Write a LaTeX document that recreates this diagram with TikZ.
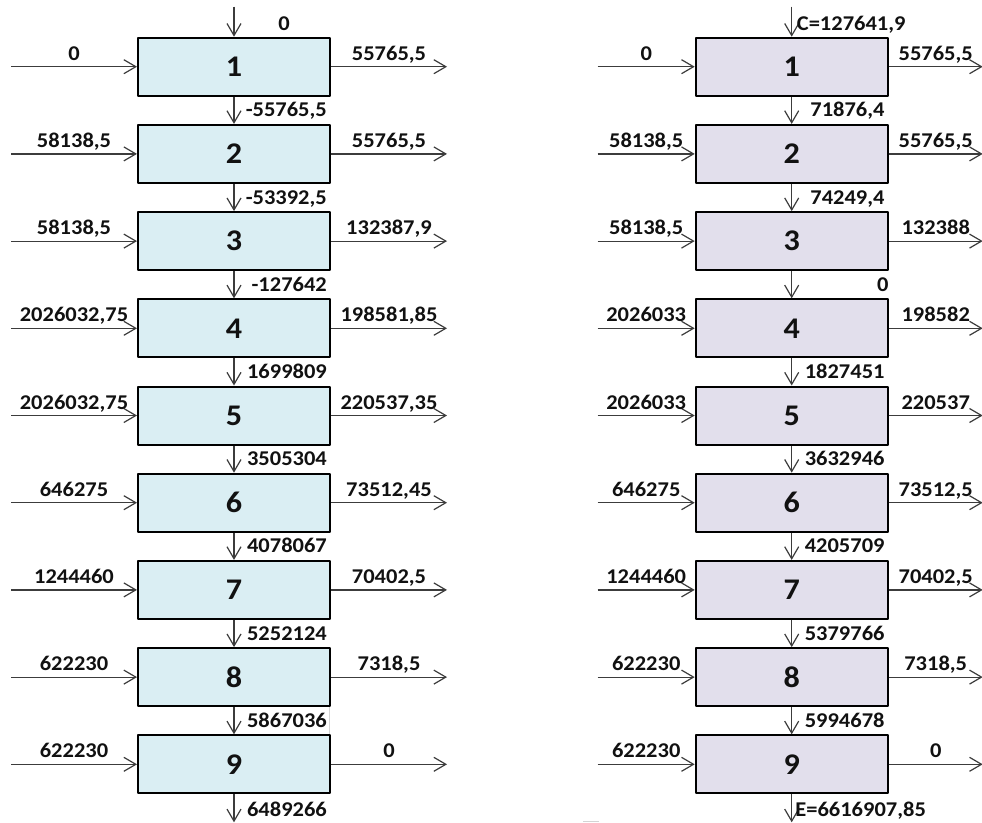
\documentclass[tikz,border=0pt]{standalone}
\usepackage{fontspec}
\setmainfont{Carlito}[FakeStretch=1.07]
\usetikzlibrary{arrows.meta}
\definecolor{balBlue}{HTML}{DAEEF3}
\definecolor{balLilac}{HTML}{E2DFEC}
\definecolor{balInk}{HTML}{111111}
\definecolor{balLine}{HTML}{3C3C3C}
\definecolor{balGrid}{HTML}{D4D4D4}

\begin{document}
\begin{tikzpicture}[x=1pt,y=-1pt,>={Straight Barb[length=12pt,width=14pt]},line join=round]
\useasboundingbox[fill=white] (0,0) rectangle (982,822);
\tikzset{cell/.style={draw=black,line width=2pt,minimum width=192pt,minimum height=58pt,inner sep=0pt,text=balInk,font=\fontsize{30}{33}\selectfont\bfseries},
  cellL/.style={cell,fill=balBlue},cellR/.style={cell,fill=balLilac},
  flow/.style={draw=balLine,line width=1.2pt,->},
  lab/.style={text=balInk,inner sep=0pt,font=\fontsize{21}{24}\selectfont\bfseries},
  hlab/.style={lab,midway,anchor=base,yshift=6.5pt}}
% left column
\node[cellL] (L1) at (234,66.7) {1}; \node[cellL] (L2) at (234,153.9) {2}; \node[cellL] (L3) at (234,241.1) {3};
\node[cellL] (L4) at (234,328.3) {4}; \node[cellL] (L5) at (234,415.5) {5}; \node[cellL] (L6) at (234,502.7) {6};
\node[cellL] (L7) at (234,589.9) {7}; \node[cellL] (L8) at (234,677.1) {8}; \node[cellL] (L9) at (234,764.3) {9};
% right column
\node[cellR] (R1) at (791.7,66.7) {1}; \node[cellR] (R2) at (791.7,153.9) {2}; \node[cellR] (R3) at (791.7,241.1) {3};
\node[cellR] (R4) at (791.7,328.3) {4}; \node[cellR] (R5) at (791.7,415.5) {5}; \node[cellR] (R6) at (791.7,502.7) {6};
\node[cellR] (R7) at (791.7,589.9) {7}; \node[cellR] (R8) at (791.7,677.1) {8}; \node[cellR] (R9) at (791.7,764.3) {9};
% side flows, left column
\draw[flow] ([xshift=-126pt]L1.west) -- node[hlab]{0} (L1.west); \draw[flow] (L1.east) -- node[hlab]{55765,5} ([xshift=116pt]L1.east);
\draw[flow] ([xshift=-126pt]L2.west) -- node[hlab]{58138,5} (L2.west); \draw[flow] (L2.east) -- node[hlab]{55765,5} ([xshift=116pt]L2.east);
\draw[flow] ([xshift=-126pt]L3.west) -- node[hlab]{58138,5} (L3.west); \draw[flow] (L3.east) -- node[hlab]{132387,9} ([xshift=116pt]L3.east);
\draw[flow] ([xshift=-126pt]L4.west) -- node[hlab]{2026032,75} (L4.west); \draw[flow] (L4.east) -- node[hlab]{198581,85} ([xshift=116pt]L4.east);
\draw[flow] ([xshift=-126pt]L5.west) -- node[hlab]{2026032,75} (L5.west); \draw[flow] (L5.east) -- node[hlab]{220537,35} ([xshift=116pt]L5.east);
\draw[flow] ([xshift=-126pt]L6.west) -- node[hlab]{646275} (L6.west); \draw[flow] (L6.east) -- node[hlab]{73512,45} ([xshift=116pt]L6.east);
\draw[flow] ([xshift=-126pt]L7.west) -- node[hlab]{1244460} (L7.west); \draw[flow] (L7.east) -- node[hlab]{70402,5} ([xshift=116pt]L7.east);
\draw[flow] ([xshift=-126pt]L8.west) -- node[hlab]{622230} (L8.west); \draw[flow] (L8.east) -- node[hlab]{7318,5} ([xshift=116pt]L8.east);
\draw[flow] ([xshift=-126pt]L9.west) -- node[hlab]{622230} (L9.west); \draw[flow] (L9.east) -- node[hlab]{0} ([xshift=116pt]L9.east);
% side flows, right column
\draw[flow] ([xshift=-97pt]R1.west) -- node[hlab]{0} (R1.west); \draw[flow] (R1.east) -- node[hlab]{55765,5} ([xshift=94pt]R1.east);
\draw[flow] ([xshift=-97pt]R2.west) -- node[hlab]{58138,5} (R2.west); \draw[flow] (R2.east) -- node[hlab]{55765,5} ([xshift=94pt]R2.east);
\draw[flow] ([xshift=-97pt]R3.west) -- node[hlab]{58138,5} (R3.west); \draw[flow] (R3.east) -- node[hlab]{132388} ([xshift=94pt]R3.east);
\draw[flow] ([xshift=-97pt]R4.west) -- node[hlab]{2026033} (R4.west); \draw[flow] (R4.east) -- node[hlab]{198582} ([xshift=94pt]R4.east);
\draw[flow] ([xshift=-97pt]R5.west) -- node[hlab]{2026033} (R5.west); \draw[flow] (R5.east) -- node[hlab]{220537} ([xshift=94pt]R5.east);
\draw[flow] ([xshift=-97pt]R6.west) -- node[hlab]{646275} (R6.west); \draw[flow] (R6.east) -- node[hlab]{73512,5} ([xshift=94pt]R6.east);
\draw[flow] ([xshift=-97pt]R7.west) -- node[hlab]{1244460} (R7.west); \draw[flow] (R7.east) -- node[hlab]{70402,5} ([xshift=94pt]R7.east);
\draw[flow] ([xshift=-97pt]R8.west) -- node[hlab]{622230} (R8.west); \draw[flow] (R8.east) -- node[hlab]{7318,5} ([xshift=94pt]R8.east);
\draw[flow] ([xshift=-97pt]R9.west) -- node[hlab]{622230} (R9.west); \draw[flow] (R9.east) -- node[hlab]{0} ([xshift=94pt]R9.east);
% carried balance, left column
\draw[flow] ([yshift=30pt]L1.north) -- (L1.north); \node[lab,anchor=base] at ([shift={(50pt,6.5pt)}]L1.north) {0};
\draw[flow] (L1.south) -- (L2.north); \node[lab,anchor=base east] at ([shift={(-4pt,7pt)}]L2.north east) {-55765,5};
\draw[flow] (L2.south) -- (L3.north); \node[lab,anchor=base east] at ([shift={(-4pt,7pt)}]L3.north east) {-53392,5};
\draw[flow] (L3.south) -- (L4.north); \node[lab,anchor=base east] at ([shift={(-4pt,7pt)}]L4.north east) {-127642};
\draw[flow] (L4.south) -- (L5.north); \node[lab,anchor=base east] at ([shift={(-4pt,7pt)}]L5.north east) {1699809};
\draw[flow] (L5.south) -- (L6.north); \node[lab,anchor=base east] at ([shift={(-4pt,7pt)}]L6.north east) {3505304};
\draw[flow] (L6.south) -- (L7.north); \node[lab,anchor=base east] at ([shift={(-4pt,7pt)}]L7.north east) {4078067};
\draw[flow] (L7.south) -- (L8.north); \node[lab,anchor=base east] at ([shift={(-4pt,7pt)}]L8.north east) {5252124};
\draw[flow] (L8.south) -- (L9.north); \node[lab,anchor=base east] at ([shift={(-4pt,7pt)}]L9.north east) {5867036};
\draw[flow] (L9.south) -- ([yshift=-28pt]L9.south); \node[lab,anchor=base east] at ([shift={(-4pt,-22.5pt)}]L9.south east) {6489266};
% carried balance, right column
\draw[flow] ([yshift=30pt]R1.north) -- (R1.north); \node[lab,anchor=base west] at ([shift={(5pt,6.5pt)}]R1.north) {C=127641,9};
\draw[flow] (R1.south) -- (R2.north); \node[lab,anchor=base east] at ([shift={(-4pt,7pt)}]R2.north east) {71876,4};
\draw[flow] (R2.south) -- (R3.north); \node[lab,anchor=base east] at ([shift={(-4pt,7pt)}]R3.north east) {74249,4};
\draw[flow] (R3.south) -- (R4.north); \node[lab,anchor=base east] at ([shift={(0pt,7pt)}]R4.north east) {0};
\draw[flow] (R4.south) -- (R5.north); \node[lab,anchor=base east] at ([shift={(-4pt,7pt)}]R5.north east) {1827451};
\draw[flow] (R5.south) -- (R6.north); \node[lab,anchor=base east] at ([shift={(-4pt,7pt)}]R6.north east) {3632946};
\draw[flow] (R6.south) -- (R7.north); \node[lab,anchor=base east] at ([shift={(-4pt,7pt)}]R7.north east) {4205709};
\draw[flow] (R7.south) -- (R8.north); \node[lab,anchor=base east] at ([shift={(-4pt,7pt)}]R8.north east) {5379766};
\draw[flow] (R8.south) -- (R9.north); \node[lab,anchor=base east] at ([shift={(-4pt,7pt)}]R9.north east) {5994678};
\draw[flow] (R9.south) -- ([yshift=-28pt]R9.south); \node[lab,anchor=base west] at ([shift={(3.5pt,-22.5pt)}]R9.south) {E=6616907,85};
% faint cell edges
\draw[balGrid,line width=1pt] ([xshift=-2pt]L8.south east) -- ([xshift=-2pt]L9.north east);
\draw[balGrid,line width=1pt] (583,821) -- (599,821);
\end{tikzpicture}
\end{document}
